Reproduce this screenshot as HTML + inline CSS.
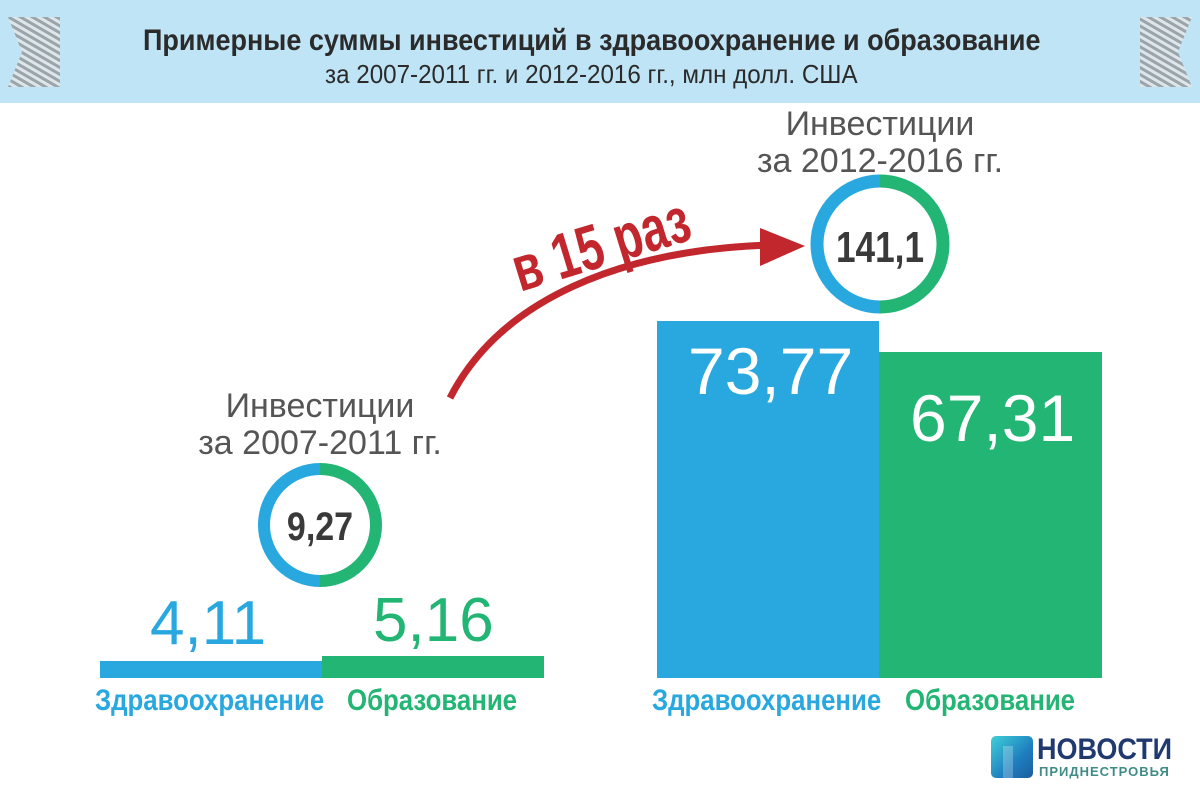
<!DOCTYPE html><html><head><meta charset="utf-8"><style>
body{margin:0;width:1200px;height:800px;background:#fff;position:relative;overflow:hidden;font-family:"Liberation Sans",sans-serif}
.a{position:absolute}
.t{white-space:nowrap;transform-origin:left top}
</style></head><body>
<div class="a" style="left:0;top:0;width:1200px;height:103px;background:#bfe4f5"></div>
<svg class="a" style="left:0;top:0" width="1200" height="110">
<defs><pattern id="p" width="6" height="6" patternUnits="userSpaceOnUse" patternTransform="rotate(-60)"><rect width="3" height="6" fill="#9aa5ab"/><rect x="3" width="3" height="6" fill="#dfe6ea"/></pattern></defs>
<polygon points="8,17 60,17 60,87 8,87 22,52" fill="url(#p)"/>
<polygon points="1140,17 1192,17 1178,52 1192,87 1140,87" fill="url(#p)"/>
</svg>
<div class="a t" style="left:143px;top:24px;font-size:30px;font-weight:bold;color:#2b2b2b;transform:scaleX(0.9)">Примерные суммы инвестиций в здравоохранение и образование</div>
<div class="a t" style="left:325px;top:59px;font-size:26px;color:#2b2b2b;transform:scaleX(0.93)">за 2007-2011 гг. и 2012-2016 гг., млн долл. США</div>

<div class="a" style="left:100px;top:661px;width:222px;height:17px;background:#29a8e0"></div>
<div class="a" style="left:322px;top:656px;width:222px;height:22px;background:#22b573"></div>
<div class="a" style="left:657px;top:321px;width:222px;height:357px;background:#29a8e0"></div>
<div class="a" style="left:879px;top:352px;width:223px;height:326px;background:#22b573"></div>

<div class="a t" style="left:150px;top:588px;font-size:62px;color:#29a8e0">4,11</div>
<div class="a t" style="left:373px;top:585px;font-size:62px;color:#22b573">5,16</div>
<div class="a t" style="left:688px;top:333px;font-size:66px;color:#fff">73,77</div>
<div class="a t" style="left:910px;top:380px;font-size:66px;color:#fff">67,31</div>

<div class="a t" style="left:95px;top:684px;font-size:30px;font-weight:bold;color:#29a8e0;transform:scaleX(0.86)">Здравоохранение</div>
<div class="a t" style="left:347px;top:684px;font-size:30px;font-weight:bold;color:#22b573;transform:scaleX(0.86)">Образование</div>
<div class="a t" style="left:652px;top:684px;font-size:30px;font-weight:bold;color:#29a8e0;transform:scaleX(0.86)">Здравоохранение</div>
<div class="a t" style="left:905px;top:684px;font-size:30px;font-weight:bold;color:#22b573;transform:scaleX(0.86)">Образование</div>

<div class="a" style="left:190px;top:388px;width:260px;text-align:center;font-size:34px;line-height:37px;color:#555">Инвестиции<br>за 2007-2011 гг.</div>
<div class="a" style="left:750px;top:106px;width:260px;text-align:center;font-size:34px;line-height:37px;color:#555">Инвестиции<br>за 2012-2016 гг.</div>

<svg class="a" style="left:0;top:0" width="1200" height="800">
<path d="M320,469 A56,56 0 0 0 320,581" fill="none" stroke="#29a8e0" stroke-width="12"/>
<path d="M320,469 A56,56 0 0 1 320,581" fill="none" stroke="#22b573" stroke-width="12"/>
<path d="M880,181 A63,63 0 0 0 880,307" fill="none" stroke="#29a8e0" stroke-width="13"/>
<path d="M880,181 A63,63 0 0 1 880,307" fill="none" stroke="#22b573" stroke-width="13"/>
<text x="320" y="540" text-anchor="middle" font-size="40" font-weight="bold" fill="#3a3a3a" transform="translate(320 0) scale(0.85 1) translate(-320 0)">9,27</text>
<text x="880" y="262" text-anchor="middle" font-size="44" font-weight="bold" fill="#3a3a3a" transform="translate(880 0) scale(0.8 1) translate(-880 0)">141,1</text>
<path d="M450,398 C500,300 620,250 770,245" fill="none" stroke="#c1272d" stroke-width="7"/>
<polygon points="760,228 805,246 760,266" fill="#c1272d"/>
<text x="520" y="292" font-size="64" font-weight="bold" fill="#c1272d" transform="rotate(-17 520 292) translate(520 0) scale(0.72 1) translate(-520 0)">в 15 раз</text>
</svg>

<div class="a" style="left:991px;top:736px;width:42px;height:42px;border-radius:5px;background:linear-gradient(135deg,#3fd0d8,#1f7fc0 60%,#1b5c9c)"></div>
<div class="a" style="left:1003px;top:746px;width:10px;height:32px;background:rgba(255,255,255,.25)"></div>
<div class="a t" style="left:1037px;top:733px;font-size:30px;font-weight:bold;color:#203a70;transform:scaleX(0.9)">НОВОСТИ</div>
<div class="a t" style="left:1039px;top:764px;font-size:13px;font-weight:bold;color:#3e8c84;letter-spacing:1px">ПРИДНЕСТРОВЬЯ</div>
</body></html>
